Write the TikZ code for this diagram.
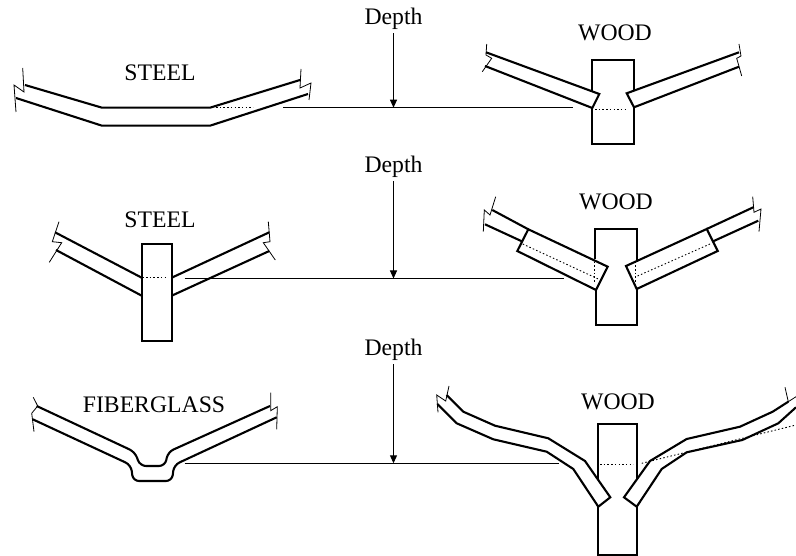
\documentclass[tikz,border=0pt]{standalone}
\usepackage{fontspec}
\setmainfont{Liberation Serif}
\usetikzlibrary {arrows.meta}
\tikzset{
  label/.style={inner sep=0pt,font=\fontsize{23.7}{26}\selectfont},
  depthlabel/.style={label,outer ysep=3.5pt},
  board/.style={line width=2.1pt,line join=miter},
  brk/.style={line width=0.8pt},
  dots/.style={line width=0.9pt,dash pattern=on 1.5pt off 2.2pt},
  depthline/.style={line width=1pt},
  deptharrow/.style={line width=1pt,-{Triangle[length=8pt,width=7pt]}}
}
\begin{document}
\begin{tikzpicture}[x=1pt,y=-1pt]
  \useasboundingbox (0,0) rectangle (796,556);

  \node[depthlabel] (depthA) at (393.5,19) {Depth};
  \node[depthlabel] (depthB) at (393.5,167) {Depth};
  \node[depthlabel] (depthC) at (393.5,350) {Depth};
  \node[label] (steelA) at (160,73) {STEEL};
  \node[label] (steelB) at (160,220) {STEEL};
  \node[label] (fiber) at (154,405) {FIBERGLASS};
  \node[label] (woodA) at (615,33) {WOOD};
  \node[label] (woodB) at (616,202) {WOOD};
  \node[label] (woodC) at (618,402) {WOOD};

  \coordinate (lineAl) at (283,107.7);
  \coordinate (lineAr) at (573,107.7);
  \coordinate (hitA) at (393.5,107.7);
  \coordinate (lineBl) at (184.5,278.5);
  \coordinate (lineBr) at (564,278.5);
  \coordinate (hitB) at (393.5,278.5);
  \coordinate (lineCl) at (184.5,463.3);
  \coordinate (lineCr) at (559,463.3);
  \coordinate (hitC) at (393.5,463.3);

  \draw[depthline](lineAl)--(lineAr);
  \draw[depthline](lineBl)--(lineBr);
  \draw[depthline](lineCl)--(lineCr);
  \draw[deptharrow](depthA)--(hitA);
  \draw[deptharrow](depthB)--(hitB);
  \draw[deptharrow](depthC)--(hitC);

  % row 1, steel
  \draw[board](25,85)--(102,107.7)--(210,107.7)--(300,80);
  \draw[board](16,98)--(102,125.7)--(210,125.7)--(308,94);
  \draw[brk](22.7,68)--(24,92)--(14,85)--(16,112);
  \draw[brk](301,69)--(300,88)--(311,83)--(309,100);
  \draw[dots](216,107.7)--(253,107.7);

  % row 1, wood
  \draw[board](591.7,91)--(591.7,60)--(634,60)--(634,90.7);
  \draw[board](591.7,108)--(591.7,144)--(634,144)--(634,107.3);
  \draw[board](486,52.3)--(599.3,94)--(592.3,108)--(485,66);
  \draw[board](739,52.3)--(626.7,93.3)--(634,107.3)--(739,66.7);
  \draw[brk](486.7,44)--(486,55)--(491.7,58.3)--(482.3,71.7);
  \draw[brk](739,44)--(741,56)--(736.7,58.3)--(741.7,76);
  \draw[dots](595,109.3)--(628,109.3);

  % row 2, steel
  \draw[board](142.3,244) rectangle (171.7,341);
  \draw[board](55,232.3)--(141.7,277.7);
  \draw[board](56,250)--(141.7,295.7);
  \draw[board](269.3,232.3)--(171.7,277.7);
  \draw[board](269.3,251)--(171.7,295.7);
  \draw[brk](59,221.7)--(52.3,241.7)--(61.7,242.7)--(49.3,262.3);
  \draw[brk](268.3,221.7)--(270,241.7)--(263.3,242.7)--(275.3,260);
  \draw[dots](142.3,277.7)--(168,277.7);

  % row 2, wood
  \draw[board](595,259.3)--(595,228.7)--(637.3,228.7)--(637.3,260);
  \draw[board](596,290)--(596,325.3)--(637.3,325.3)--(637.3,289);
  \draw[board](492.3,210)--(528.3,229.3);
  \draw[board](485,224.3)--(522.7,241.7);
  \draw[board](528.3,229.3)--(607.7,266.7)--(596,290)--(517.3,251)--cycle;
  \draw[board](753.3,207.3)--(706.7,229);
  \draw[board](758.3,220.7)--(712.3,241.7);
  \draw[board](706.7,229)--(626,266)--(636.7,289)--(717.7,251)--cycle;
  \draw[brk](495.7,196.7)--(490,215)--(484.3,210)--(483.3,231.7);
  \draw[brk](752.7,196.7)--(754,212.3)--(761,209)--(759,231.7);
  \draw[dots](522.7,244)--(598.3,279);
  \draw[dots](594.3,261.7)--(594.3,283.3);
  \draw[dots](710,244)--(636,276.7);
  \draw[dots](635.7,261.7)--(635.7,283.3);

  % row 3, fiberglass
  \draw[board,rounded corners=6pt](36.7,406)--(135,452)--(140,466)--(165,466)--(168,452)--(270,406);
  \draw[board,rounded corners=6pt](32.7,419.3)--(131,465)--(133,481)--(172,481)--(174,465)--(276.7,417.3);
  \draw[brk](33.3,397.3)--(37.7,406)--(31.7,413.3)--(34,431.7);
  \draw[brk](270.7,392.7)--(270.7,410.7)--(277.3,406.7)--(276.7,429.3);

  % row 3, wood
  \draw[board](598.3,479.3)--(598.3,424.3)--(637,424.3)--(637,479.3);
  \draw[board](598.3,506.7)--(598.3,555)--(637,555)--(637,506.7);
  \draw[board](446.7,395)--(463.3,411.7)--(495,425.7)--(548.3,438.3)--(585,461)--(610.3,497.3)--(598.3,506.7)--(573.3,469)--(546.7,451.7)--(493.3,439.3)--(456.7,423.3)--(437.3,404);
  \draw[board](788.3,401.7)--(772.7,411.7)--(740,426.7)--(686.7,439)--(650,461)--(624,497.3)--(636.7,506.7)--(661.7,469)--(686.7,452.3)--(742.3,440)--(778.3,423.3)--(796,407.3);
  \draw[brk](449,386)--(445.7,401)--(436.7,395)--(438,412.3);
  \draw[brk](785,387.3)--(788.3,401.7)--(796,396.7);
  \draw[dots](600,464)--(633.3,464);
  \draw[dots](641.7,463.3)--(796,425);
\end{tikzpicture}
\end{document}
